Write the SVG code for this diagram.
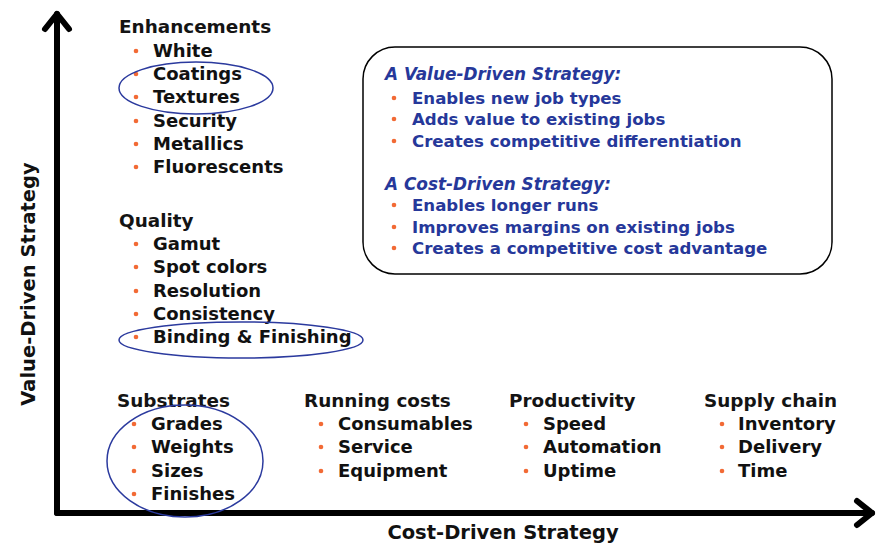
<svg xmlns="http://www.w3.org/2000/svg" width="877" height="544" viewBox="0 0 877 544">
  <style>
    text { font-family: "DejaVu Sans", "Open Sans", sans-serif; font-weight: 700; }
    .hd { font-size: 18.4px; fill: #141414; }
    .it { font-size: 18px; fill: #111; }
    .bt { font-size: 16.6px; fill: #26389a; }
    .bh { font-size: 16.9px; font-style: italic; fill: #26389a; }
    .ax { font-size: 19.5px; fill: #111; }
    .dot { fill: #f26a35; }
    .axis { stroke: #000; stroke-width: 6; fill: none; stroke-linecap: round; stroke-linejoin: round; }
    .ring { fill: none; stroke: #2b3a9e; stroke-width: 1.5; }
  </style>
  <rect width="877" height="544" fill="#fff"/>

  <!-- axes -->
  <g id="connectors">
    <path class="axis" d="M57 513 V14"/>
    <path class="axis" d="M45 29 L57 14 L69 29"/>
    <path class="axis" d="M57 513 H872"/>
    <path class="axis" d="M857 501 L872 513 L857 525"/>
  </g>
  <text class="ax" transform="translate(35 284) rotate(-90)" text-anchor="middle">Value-Driven Strategy</text>
  <text class="ax" x="503" y="539" text-anchor="middle">Cost-Driven Strategy</text>

  <!-- enhancements -->
  <g id="enhancements">
    <text class="hd" x="119" y="33">Enhancements</text>
    <circle class="dot" cx="136" cy="51" r="2.3"/><text class="it" x="153" y="57">White</text>
    <circle class="dot" cx="136" cy="74" r="2.3"/><text class="it" x="153" y="80">Coatings</text>
    <circle class="dot" cx="136" cy="97" r="2.3"/><text class="it" x="153" y="103">Textures</text>
    <circle class="dot" cx="136" cy="121" r="2.3"/><text class="it" x="153" y="127">Security</text>
    <circle class="dot" cx="136" cy="144" r="2.3"/><text class="it" x="153" y="150">Metallics</text>
    <circle class="dot" cx="136" cy="167" r="2.3"/><text class="it" x="153" y="173">Fluorescents</text>
    <ellipse class="ring" cx="196" cy="88" rx="77" ry="26"/>
  </g>

  <!-- quality -->
  <g id="quality">
    <text class="hd" x="119" y="227">Quality</text>
    <circle class="dot" cx="136" cy="244" r="2.3"/><text class="it" x="153" y="250">Gamut</text>
    <circle class="dot" cx="136" cy="267" r="2.3"/><text class="it" x="153" y="273">Spot colors</text>
    <circle class="dot" cx="136" cy="291" r="2.3"/><text class="it" x="153" y="297">Resolution</text>
    <circle class="dot" cx="136" cy="314" r="2.3"/><text class="it" x="153" y="320">Consistency</text>
    <circle class="dot" cx="136" cy="337" r="2.3"/><text class="it" x="153" y="343">Binding &amp; Finishing</text>
    <ellipse class="ring" cx="241" cy="340" rx="122" ry="18"/>
  </g>

  <!-- strategy box -->
  <g id="strategy">
    <rect x="363" y="47" width="469" height="227" rx="32" fill="none" stroke="#000" stroke-width="1.5"/>
    <text class="bh" x="385" y="80">A Value-Driven Strategy:</text>
    <circle class="dot" cx="394" cy="98" r="2.3"/><text class="bt" x="412" y="104">Enables new job types</text>
    <circle class="dot" cx="394" cy="119" r="2.3"/><text class="bt" x="412" y="125">Adds value to existing jobs</text>
    <circle class="dot" cx="394" cy="141" r="2.3"/><text class="bt" x="412" y="147">Creates competitive differentiation</text>
    <text class="bh" x="385" y="190">A Cost-Driven Strategy:</text>
    <circle class="dot" cx="394" cy="205" r="2.3"/><text class="bt" x="412" y="211">Enables longer runs</text>
    <circle class="dot" cx="394" cy="227" r="2.3"/><text class="bt" x="412" y="233">Improves margins on existing jobs</text>
    <circle class="dot" cx="394" cy="248" r="2.3"/><text class="bt" x="412" y="254">Creates a competitive cost advantage</text>
  </g>

  <!-- substrates -->
  <g id="substrates">
    <text class="hd" x="117" y="407">Substrates</text>
    <circle class="dot" cx="134" cy="424" r="2.3"/><text class="it" x="151" y="430">Grades</text>
    <circle class="dot" cx="134" cy="447" r="2.3"/><text class="it" x="151" y="453">Weights</text>
    <circle class="dot" cx="134" cy="471" r="2.3"/><text class="it" x="151" y="477">Sizes</text>
    <circle class="dot" cx="134" cy="494" r="2.3"/><text class="it" x="151" y="500">Finishes</text>
    <ellipse class="ring" cx="185" cy="461" rx="78" ry="56"/>
  </g>

  <!-- running costs -->
  <g id="running-costs">
    <text class="hd" x="304" y="407">Running costs</text>
    <circle class="dot" cx="321" cy="424" r="2.3"/><text class="it" x="338" y="430">Consumables</text>
    <circle class="dot" cx="321" cy="447" r="2.3"/><text class="it" x="338" y="453">Service</text>
    <circle class="dot" cx="321" cy="471" r="2.3"/><text class="it" x="338" y="477">Equipment</text>
  </g>

  <!-- productivity -->
  <g id="productivity">
    <text class="hd" x="509" y="407">Productivity</text>
    <circle class="dot" cx="526" cy="424" r="2.3"/><text class="it" x="543" y="430">Speed</text>
    <circle class="dot" cx="526" cy="447" r="2.3"/><text class="it" x="543" y="453">Automation</text>
    <circle class="dot" cx="526" cy="471" r="2.3"/><text class="it" x="543" y="477">Uptime</text>
  </g>

  <!-- supply chain -->
  <g id="supply-chain">
    <text class="hd" x="704" y="407">Supply chain</text>
    <circle class="dot" cx="722" cy="424" r="2.3"/><text class="it" x="738" y="430">Inventory</text>
    <circle class="dot" cx="722" cy="447" r="2.3"/><text class="it" x="738" y="453">Delivery</text>
    <circle class="dot" cx="722" cy="471" r="2.3"/><text class="it" x="738" y="477">Time</text>
  </g>
</svg>
